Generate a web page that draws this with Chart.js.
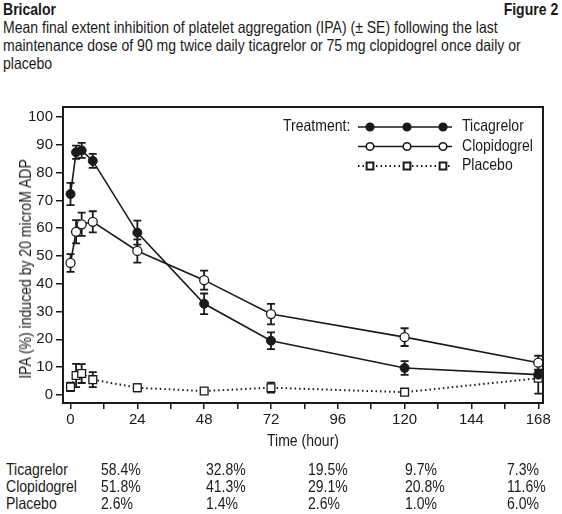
<!DOCTYPE html>
<html>
<head>
<meta charset="utf-8">
<script src="https://cdn.jsdelivr.net/npm/chart.js@4.4.1/dist/chart.umd.min.js"></script>
<style>
  body { margin: 0; width: 562px; height: 514px; background: #fff; position: relative; overflow: hidden;
         font-family: "Liberation Sans", Arial, sans-serif; color: #1a1a1a; }
  .t { position: absolute; white-space: nowrap; font-size: 16.5px; line-height: 18px;
       transform: scaleX(0.85); transform-origin: 0 0; }
  .r { transform-origin: 100% 0; }
  .b { font-weight: bold; }
  #wrap { position: absolute; left: 0; top: 95px; width: 562px; height: 355px; }
  #xTitle { position: absolute; left: 203px; width: 200px; top: 431px; text-align: center;
            font-size: 16.5px; line-height: 18px; transform: scaleX(0.85); }
  #yTitle { position: absolute; left: -125px; width: 300px; top: 260px; text-align: center;
            font-size: 16.5px; line-height: 18px; transform: rotate(-90deg) scaleX(0.85); }
</style>
</head>
<body>
<div class="t b" style="left:3px;top:0px;">Bricalor</div>
<div class="t b r" style="right:4px;top:0px;">Figure 2</div>
<div class="t" style="left:3px;top:17.5px;">Mean final extent inhibition of platelet aggregation (IPA) (± SE) following the last</div>
<div class="t" style="left:3px;top:35.5px;">maintenance dose of 90 mg twice daily ticagrelor or 75 mg clopidogrel once daily or</div>
<div class="t" style="left:3px;top:53.5px;">placebo</div>

<div id="wrap"><canvas id="chart" width="562" height="355"></canvas></div>

<div id="xTitle">Time (hour)</div>
<div id="yTitle">IPA (%) induced by 20 microM ADP</div>
<div class="t" style="left:283px;top:116px;">Treatment:</div>
<div id="legendLabels"></div>
<div id="table"></div>

<script>
// hours after last dose
const times = [0, 2, 4, 8, 24, 48, 72, 120, 168];

const ticagrelor   = [72.3, 87.3, 88.0, 84.2, 58.4, 32.8, 19.5, 9.7, 7.3];
const ticagrelorSE = [4.0, 2.4, 2.7, 2.5, 4.3, 3.7, 3.0, 2.5, 1.5];
const clopidogrel   = [47.5, 58.7, 61.4, 62.3, 51.8, 41.3, 29.1, 20.8, 11.6];
const clopidogrelSE = [3.2, 4.2, 4.2, 3.8, 4.2, 3.4, 3.7, 3.2, 2.5];
const placebo   = [2.9, 7.0, 7.7, 5.5, 2.6, 1.4, 2.6, 1.0, 6.0];
const placeboSE = [1.5, 4.2, 3.4, 2.7, 1.3, 0.3, 1.8, 0.3, 5.5];

const seriesNames = ['Ticagrelor', 'Clopidogrel', 'Placebo'];
const xTicks = [0, 12, 24, 36, 48, 60, 72, 84, 96, 108, 120, 132, 144, 156, 168];
const yTicks = [0, 10, 20, 30, 40, 50, 60, 70, 80, 90, 100];
const tableTimes = [24, 48, 72, 120, 168];

const ink = '#1a1a1a';
const tickFont = { family: '"Liberation Sans", Arial, sans-serif', size: 15 };

function pts(vals) {
  return times.map((t, i) => ({ x: t, y: vals[i] }));
}

const errorBars = {
  id: 'errorBars',
  beforeDatasetsDraw(chart) {
    const { ctx, scales: { x, y } } = chart;
    ctx.save();
    ctx.strokeStyle = ink;
    ctx.lineWidth = 1.8;
    chart.data.datasets.forEach(ds => {
      ds.data.forEach((p, i) => {
        const px = x.getPixelForValue(p.x);
        const top = y.getPixelForValue(p.y + ds.se[i]);
        const bot = y.getPixelForValue(p.y - ds.se[i]);
        ctx.beginPath();
        ctx.moveTo(px, top); ctx.lineTo(px, bot);
        ctx.moveTo(px - 4, top); ctx.lineTo(px + 4, top);
        ctx.moveTo(px - 4, bot); ctx.lineTo(px + 4, bot);
        ctx.stroke();
      });
    });
    ctx.restore();
  }
};

// box around plot + the little legend samples
const frameAndLegend = {
  id: 'frameAndLegend',
  afterDraw(chart) {
    const { ctx, chartArea: a } = chart;
    ctx.save();
    ctx.strokeStyle = ink;
    ctx.lineWidth = 2;
    ctx.strokeRect(a.left, a.top, a.right - a.left, a.bottom - a.top);

    const rows = [20, 39.5, 59];
    const marks = [370, 407, 443];
    chart.data.datasets.forEach((ds, i) => {
      const yy = a.top + rows[i];
      ctx.lineWidth = ds.borderWidth;
      ctx.setLineDash(ds.borderDash || []);
      ctx.beginPath();
      ctx.moveTo(358, yy); ctx.lineTo(452, yy);
      ctx.stroke();
      ctx.setLineDash([]);
      ctx.fillStyle = ds.pointBackgroundColor;
      ctx.strokeStyle = ink;
      marks.forEach(mx => {
        Chart.helpers.drawPoint(ctx, { pointStyle: ds.pointStyle, radius: ds.pointRadius - 0.7, rotation: 0, borderWidth: 1.3 }, mx, yy);
      });
    });
    ctx.restore();
  }
};

new Chart(document.getElementById('chart'), {
  type: 'line',
  data: {
    datasets: [
      { label: seriesNames[0], data: pts(ticagrelor), se: ticagrelorSE,
        borderColor: ink, borderWidth: 1.6, pointStyle: 'circle', pointRadius: 4.5,
        pointBackgroundColor: ink, pointBorderColor: ink, pointBorderWidth: 1 },
      { label: seriesNames[1], data: pts(clopidogrel), se: clopidogrelSE,
        borderColor: ink, borderWidth: 1.6, pointStyle: 'circle', pointRadius: 4.5,
        pointBackgroundColor: '#fff', pointBorderColor: ink, pointBorderWidth: 1.3 },
      { label: seriesNames[2], data: pts(placebo), se: placeboSE,
        borderColor: ink, borderWidth: 2, borderDash: [1.5, 3], pointStyle: 'rect', pointRadius: 5.5,
        pointBackgroundColor: '#fff', pointBorderColor: ink, pointBorderWidth: 1.3 }
    ]
  },
  options: {
    responsive: false,
    animation: false,
    clip: false,
    layout: { padding: { top: 10, right: 19, left: 0, bottom: 0 } },
    plugins: { legend: { display: false }, tooltip: { enabled: false } },
    scales: {
      x: {
        type: 'linear', min: -2.7, max: 169.7,
        afterBuildTicks: s => { s.ticks = xTicks.map(v => ({ value: v })); },
        afterFit: s => { s.height = 47; },
        ticks: { color: ink, font: tickFont, padding: 2, maxRotation: 0, autoSkip: false,
                 callback: v => (v % 24 === 0 ? String(v) : '') },
        grid: { drawOnChartArea: false, color: ink, lineWidth: 1.5, tickLength: 6 },
        border: { color: ink, width: 2 }
      },
      y: {
        min: -2.9, max: 103.6,
        afterBuildTicks: s => { s.ticks = yTicks.map(v => ({ value: v })); },
        afterFit: s => { s.width = 63; },
        ticks: { color: ink, font: tickFont, padding: 3 },
        grid: { drawOnChartArea: false, color: ink, lineWidth: 1.5, tickLength: 7 },
        border: { color: ink, width: 2 }
      }
    }
  },
  plugins: [errorBars, frameAndLegend]
});

// legend labels
const legendTops = [116, 135.5, 155];
document.getElementById('legendLabels').innerHTML = seriesNames
  .map((n, i) => `<div class="t" style="left:462px;top:${legendTops[i]}px;">${n}</div>`).join('');

// summary table under the axis
const seriesVals = [ticagrelor, clopidogrel, placebo];
const rowTops = [459.5, 476.5, 493.5];
const colLefts = [101, 206, 308, 405, 507];
let html = '';
seriesNames.forEach((n, r) => {
  html += `<div class="t" style="left:6px;top:${rowTops[r]}px;">${n}</div>`;
  tableTimes.forEach((t, c) => {
    const v = seriesVals[r][times.indexOf(t)];
    html += `<div class="t" style="left:${colLefts[c]}px;top:${rowTops[r]}px;">${v.toFixed(1)}%</div>`;
  });
});
document.getElementById('table').innerHTML = html;
</script>
</body>
</html>
